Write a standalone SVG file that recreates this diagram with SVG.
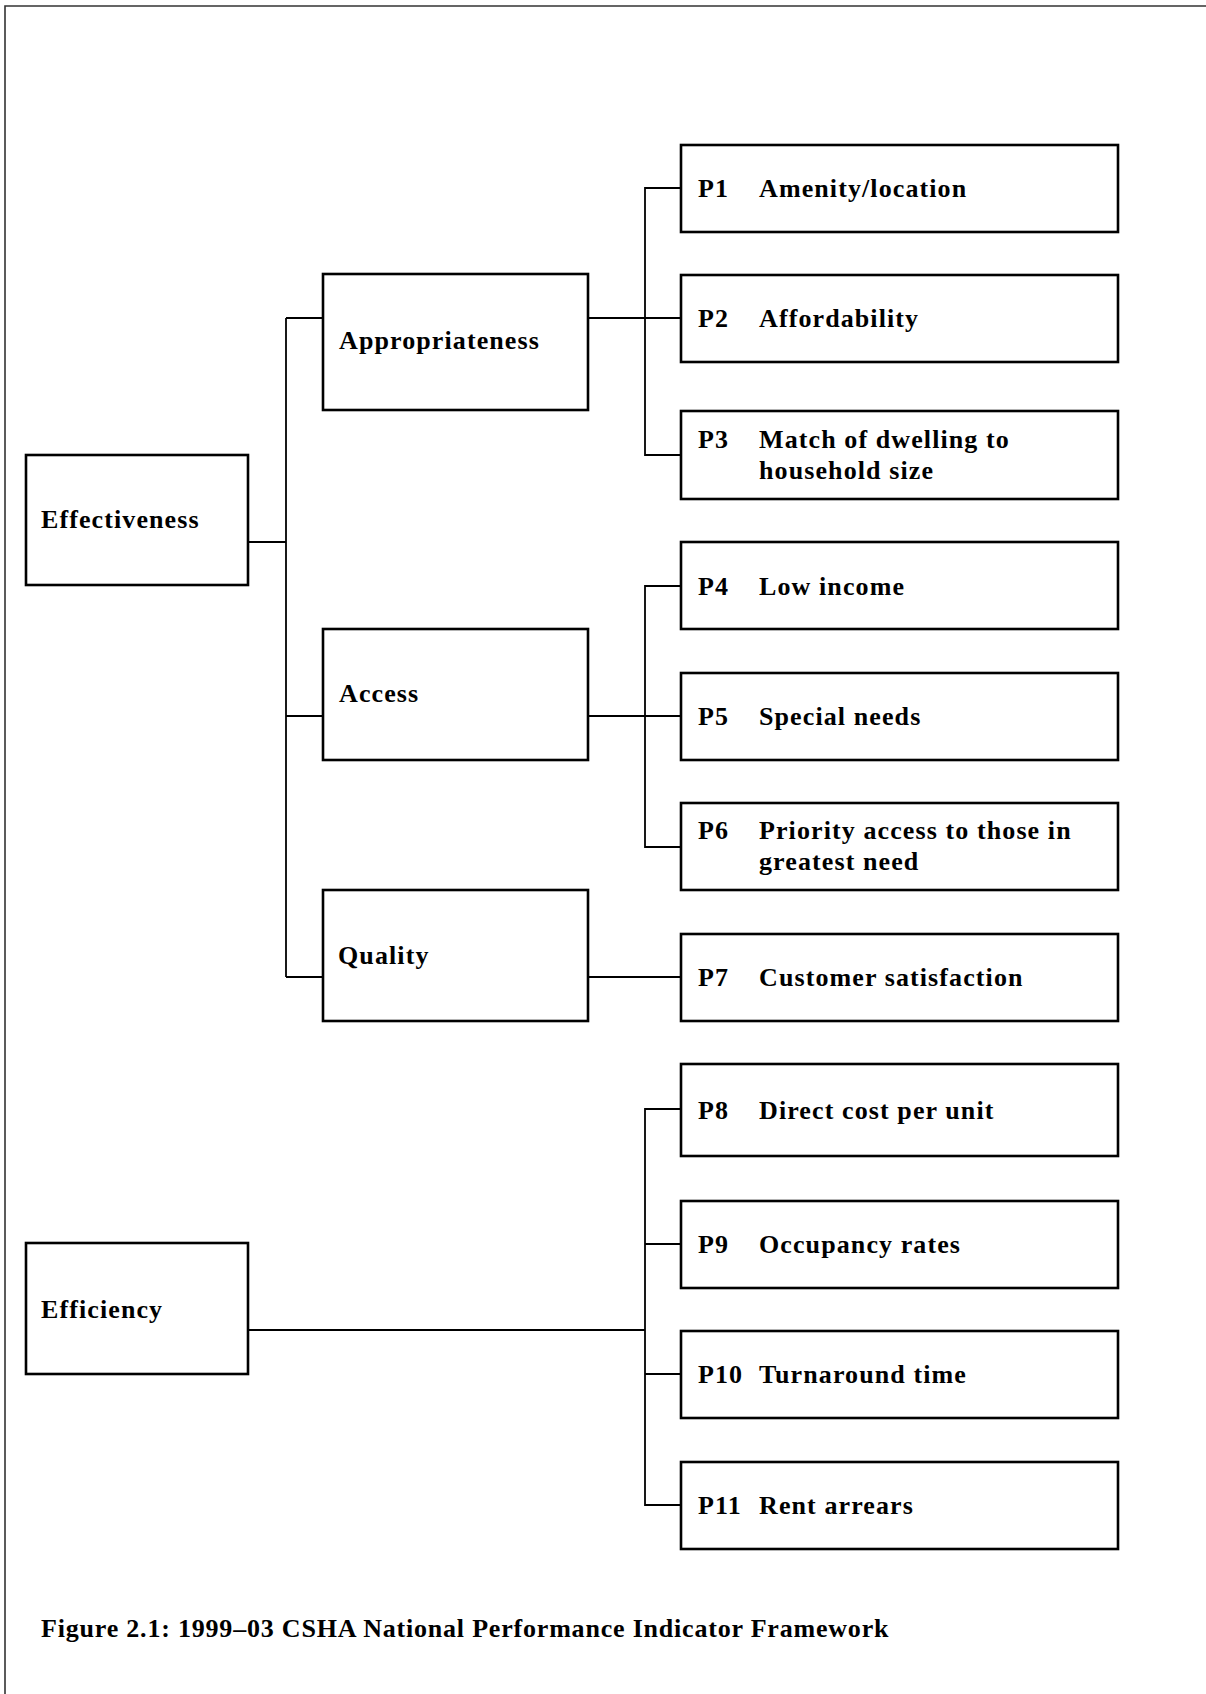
<svg xmlns="http://www.w3.org/2000/svg" width="1206" height="1694" viewBox="0 0 1206 1694">
<style>
.box{fill:#fff;stroke:#000;stroke-width:2.6}
.conn{fill:none;stroke:#000;stroke-width:1.8}
text{font-family:"Liberation Serif","Times New Roman",serif;font-weight:bold;font-size:26px;letter-spacing:1.1px;fill:#000}
.cap{font-size:26px;letter-spacing:0.8px}
</style>
<rect x="0" y="0" width="1206" height="1694" fill="#fff"/>
<path d="M5,1694 V6 H1206" fill="none" stroke="#333" stroke-width="1.6"/>
<g id="connectors">
<path class="conn" d="M247,542 H286"/>
<path class="conn" d="M286,318 V977"/>
<path class="conn" d="M286,318 H323 M286,716 H323 M286,977 H323"/>
<path class="conn" d="M588,318 H681"/>
<path class="conn" d="M681,188 H645 V455 H681"/>
<path class="conn" d="M588,716 H681"/>
<path class="conn" d="M681,586 H645 V847 H681"/>
<path class="conn" d="M588,977 H681"/>
<path class="conn" d="M247,1330 H645"/>
<path class="conn" d="M681,1109 H645 V1505 H681"/>
<path class="conn" d="M645,1244 H681 M645,1374 H681"/>
</g>
<g id="effectiveness"><rect class="box" x="26" y="455" width="222" height="130"/><text x="41" y="528">Effectiveness</text></g>
<g id="appropriateness"><rect class="box" x="323" y="274" width="265" height="136"/><text x="339" y="349">Appropriateness</text></g>
<g id="access"><rect class="box" x="323" y="629" width="265" height="131"/><text x="339" y="702">Access</text></g>
<g id="quality"><rect class="box" x="323" y="890" width="265" height="131"/><text x="338" y="964">Quality</text></g>
<g id="efficiency"><rect class="box" x="26" y="1243" width="222" height="131"/><text x="41" y="1318">Efficiency</text></g>
<g id="p1"><rect class="box" x="681" y="145" width="437" height="87"/><text x="698" y="197">P1</text><text x="759" y="197">Amenity/location</text></g>
<g id="p2"><rect class="box" x="681" y="275" width="437" height="87"/><text x="698" y="327">P2</text><text x="759" y="327">Affordability</text></g>
<g id="p3"><rect class="box" x="681" y="411" width="437" height="88"/><text x="698" y="448">P3</text><text x="759" y="448">Match of dwelling to</text><text x="759" y="479">household size</text></g>
<g id="p4"><rect class="box" x="681" y="542" width="437" height="87"/><text x="698" y="595">P4</text><text x="759" y="595">Low income</text></g>
<g id="p5"><rect class="box" x="681" y="673" width="437" height="87"/><text x="698" y="725">P5</text><text x="759" y="725">Special needs</text></g>
<g id="p6"><rect class="box" x="681" y="803" width="437" height="87"/><text x="698" y="839">P6</text><text x="759" y="839">Priority access to those in</text><text x="759" y="870">greatest need</text></g>
<g id="p7"><rect class="box" x="681" y="934" width="437" height="87"/><text x="698" y="986">P7</text><text x="759" y="986">Customer satisfaction</text></g>
<g id="p8"><rect class="box" x="681" y="1064" width="437" height="92"/><text x="698" y="1119">P8</text><text x="759" y="1119">Direct cost per unit</text></g>
<g id="p9"><rect class="box" x="681" y="1201" width="437" height="87"/><text x="698" y="1253">P9</text><text x="759" y="1253">Occupancy rates</text></g>
<g id="p10"><rect class="box" x="681" y="1331" width="437" height="87"/><text x="698" y="1383">P10</text><text x="759" y="1383">Turnaround time</text></g>
<g id="p11"><rect class="box" x="681" y="1462" width="437" height="87"/><text x="698" y="1514">P11</text><text x="759" y="1514">Rent arrears</text></g>
<g id="caption"><text class="cap" x="41" y="1637">Figure 2.1: 1999–03 CSHA National Performance Indicator Framework</text></g>
</svg>
